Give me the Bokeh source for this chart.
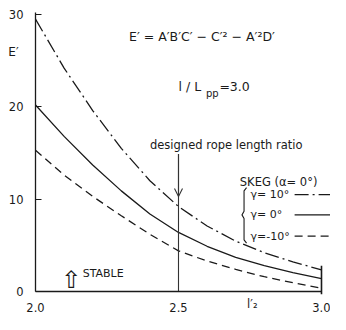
from bokeh.plotting import figure
from bokeh.models import Label, Arrow, OpenHead, FixedTicker
from bokeh.embed import file_html
from bokeh.resources import INLINE

# ---- data ----
rope_ratio = [2.0, 2.1, 2.2, 2.3, 2.4, 2.5, 2.6, 2.7, 2.8, 2.9, 3.0]
e_gamma_p10 = [29.5, 24.2, 19.6, 15.5, 12.0, 9.2, 7.1, 5.45, 4.2, 3.2, 2.35]
e_gamma_0 = [20.2, 16.8, 13.7, 10.9, 8.4, 6.4, 4.9, 3.7, 2.8, 2.05, 1.4]
e_gamma_m10 = [15.3, 12.6, 10.3, 8.2, 6.2, 4.4, 3.3, 2.4, 1.6, 0.95, 0.35]
x_ticks = [2.0, 2.5, 3.0]
x_tick_labels = ["2.0", "2.5", "3.0"]
y_ticks = [0, 10, 20, 30]
y_tick_labels = ["0", "10", "20", "30"]
designed_ratio = 2.5
legend_labels = ["γ= 10°", "γ=  0°", "γ=-10°"]

INK = "#1a1a1a"
FONT = "DejaVu Sans"

# frame spans the whole figure; axes are fixed at x=2.0 and y=0
p = figure(width=330, height=314, x_range=(1.8776, 3.0315), y_range=(-2.49, 31.52),
           output_backend="svg", toolbar_location=None,
           min_border_left=0, min_border_right=0, min_border_top=0, min_border_bottom=0)
p.outline_line_color = None
p.xgrid.visible = False
p.ygrid.visible = False
p.background_fill_color = "white"

for ax in (p.xaxis[0], p.yaxis[0]):
    ax.axis_line_color = INK
    ax.axis_line_width = 1.3
    ax.major_label_text_font = FONT
    ax.major_label_text_font_size = "11.5px"
    ax.major_label_text_color = INK
    ax.minor_tick_line_color = None

p.xaxis.fixed_location = 0
p.xaxis.bounds = (2.0, 3.0)
p.xaxis.ticker = FixedTicker(ticks=x_ticks)
p.xaxis.major_label_overrides = {t: l for t, l in zip(x_ticks, x_tick_labels)}
p.xaxis.major_tick_in = 0
p.xaxis.major_tick_out = 0
p.xaxis.major_label_standoff = 11

p.yaxis.fixed_location = 2.0
p.yaxis.bounds = (0, 30.2)
p.yaxis.ticker = FixedTicker(ticks=y_ticks)
p.yaxis.major_label_overrides = {t: l for t, l in zip(y_ticks, y_tick_labels)}
p.yaxis.major_tick_in = 6
p.yaxis.major_tick_out = 0
p.yaxis.major_tick_line_color = INK
p.yaxis.major_label_standoff = 12

# curves
p.line(rope_ratio, e_gamma_p10, line_color=INK, line_width=1.3, line_dash="14 4 2 4")
p.line(rope_ratio, e_gamma_0, line_color=INK, line_width=1.3)
p.line(rope_ratio, e_gamma_m10, line_color=INK, line_width=1.3, line_dash="8 5")

# end bar at 3.0
p.segment(x0=[3.0], y0=[-0.3], x1=[3.0], y1=[2.8], line_color=INK, line_width=1.6)

# designed rope length ratio marker
p.segment(x0=[designed_ratio], y0=[0], x1=[designed_ratio], y1=[14.9], line_color="#333333", line_width=1.1)
p.add_layout(Arrow(x_start=designed_ratio, y_start=14.9, x_end=designed_ratio, y_end=10.3,
                   line_color="#333333", line_width=1.1,
                   end=OpenHead(size=8, line_color="#333333", line_width=1.1)))

def lab(x, y, text, size="11px", align="left", baseline="middle", font=FONT):
    p.add_layout(Label(x=x, y=y, text=text, text_font=font, text_font_size=size,
                       text_color=INK, text_align=align, text_baseline=baseline))

lab(1.923, 25.9, "E′", size="12px", align="center")
lab(2.582, 27.6, "E′ = A′B′C′ − C′² − A′²D′", size="12.5px", align="center")
lab(2.50, 22.2, "l / L", size="12.5px")
lab(2.596, 21.5, "pp", size="10px")
lab(2.643, 22.2, "=3.0", size="12.5px")
lab(2.667, 15.9, "designed rope length ratio", size="11.5px", align="center")
lab(2.85, 11.9, "SKEG (α= 0°)", size="11.5px", align="center")

leg_y = [10.5, 8.3, 6.0]
leg_dash = ["14 4 2 4", "solid", "8 5"]
for yy, t, d in zip(leg_y, legend_labels, leg_dash):
    lab(2.752, yy, t, size="11px")
    p.line([2.906, 3.03], [yy, yy], line_color=INK, line_width=1.2, line_dash=d)

# brace grouping the legend entries
bx, bw = 2.722, 0.016
bt, bb = leg_y[0] + 0.75, leg_y[-1] - 0.75
bm = leg_y[1]
p.line([bx + bw, bx + bw * 0.45, bx + bw * 0.45, bx, bx + bw * 0.45, bx + bw * 0.45, bx + bw],
       [bt, bt - 0.35, bm + 0.4, bm, bm - 0.4, bb + 0.35, bb],
       line_color=INK, line_width=1.1)

lab(2.165, 2.0, "STABLE", size="11px")
lab(2.125, 1.3, "⇧", size="24px", align="center")
lab(2.758, -1.3, "l′₂", size="11.5px", align="center")

open("out.html", "w").write(file_html(p, INLINE))
